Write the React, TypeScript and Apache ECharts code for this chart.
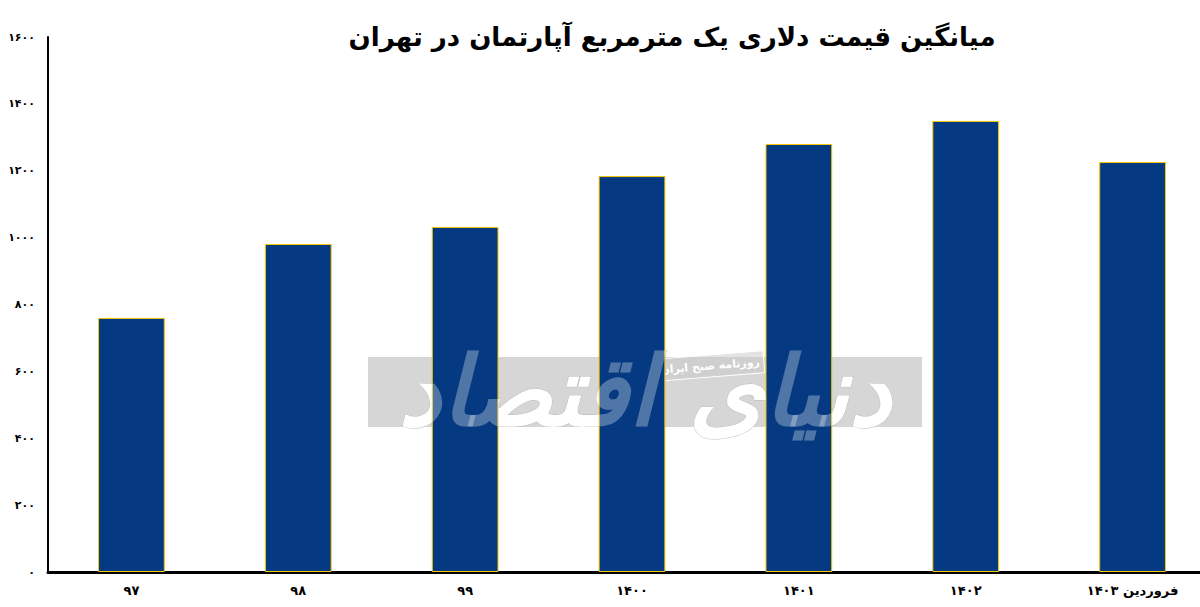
import React, { useEffect, useRef } from "react";
import * as echarts from "echarts";

const categories = ["۹۷", "۹۸", "۹۹", "۱۴۰۰", "۱۴۰۱", "۱۴۰۲", "فروردین ۱۴۰۳"];
const values = [760, 981, 1032, 1184, 1280, 1349, 1226];
const yTicks: Record<number, string> = {
  0: "۰", 200: "۲۰۰", 400: "۴۰۰", 600: "۶۰۰", 800: "۸۰۰",
  1000: "۱۰۰۰", 1200: "۱۲۰۰", 1400: "۱۴۰۰", 1600: "۱۶۰۰",
};
const title = "میانگین قیمت دلاری یک مترمربع آپارتمان در تهران";
const watermark = "دنیای اقتصاد";
const watermarkSub = "روزنامه صبح ایران";

export default function App() {
  const ref = useRef<HTMLDivElement>(null);
  useEffect(() => {
    const chart = echarts.init(ref.current!, undefined, { renderer: "svg" });
    chart.setOption({
      animation: false,
      backgroundColor: "#ffffff",
      textStyle: { fontFamily: "DejaVu Sans" },
      title: {
        text: title,
        left: 667,
        top: 19,
        textAlign: "center",
        textStyle: { fontSize: 26, fontWeight: 900, color: "#000", fontFamily: "DejaVu Sans" },
      },
      grid: { left: 48, right: 0, top: 37, bottom: 35, containLabel: false },
      xAxis: {
        type: "category",
        data: categories,
        axisLine: { show: true, lineStyle: { color: "#000", width: 3 } },
        axisTick: { show: false },
        axisLabel: { color: "#000", fontSize: 13, fontWeight: "bold", margin: 12 },
      },
      yAxis: {
        type: "value",
        min: 0,
        max: 1600,
        interval: 200,
        axisLine: { show: true, lineStyle: { color: "#000", width: 2 } },
        axisTick: { show: false },
        splitLine: { show: false },
        axisLabel: {
          color: "#000",
          fontSize: 11,
          fontWeight: "bold",
          margin: 13,
          formatter: (v: number) => yTicks[v] ?? String(v),
        },
      },
      graphic: [
        {
          type: "rect",
          z: -10,
          shape: { x: 368, y: 357, width: 554, height: 70 },
          style: { fill: "#d6d6d6" },
        },
        {
          type: "text",
          z: -5,
          x: 645,
          y: 392,
          style: {
            text: watermark,
            font: "italic bold 96px 'DejaVu Sans'",
            fill: "#ffffff",
            stroke: "#bbbbbb",
            lineWidth: 1,
            align: "center",
            verticalAlign: "middle",
          },
        },
        {
          type: "text",
          z: 100,
          x: 645,
          y: 392,
          style: {
            text: watermark,
            font: "italic bold 96px 'DejaVu Sans'",
            fill: "rgba(255,255,255,0.3)",
            align: "center",
            verticalAlign: "middle",
          },
        },
        {
          type: "group",
          x: 710,
          y: 366,
          rotation: 0.08,
          z: 101,
          children: [
            {
              type: "rect",
              shape: { x: -54, y: -11, width: 108, height: 22 },
              style: { fill: "rgba(200,200,200,0.5)", stroke: "#ffffff", lineWidth: 1 },
            },
            {
              type: "text",
              style: {
                text: watermarkSub,
                font: "bold 11px 'DejaVu Sans'",
                fill: "#ffffff",
                align: "center",
                verticalAlign: "middle",
              },
            },
          ],
        },
      ],
      series: [
        {
          type: "bar",
          data: values,
          barWidth: "40%",
          z: 2,
          itemStyle: { color: "#053a82", borderColor: "#f7c600", borderWidth: 1 },
        },
      ],
    });
    return () => chart.dispose();
  }, []);
  return (
    <div style={{ position: "absolute", left: 0, top: 0, width: 1200, height: 607, overflow: "hidden" }}>
      <div ref={ref} style={{ width: 1216, height: 607 }} />
    </div>
  );
}
